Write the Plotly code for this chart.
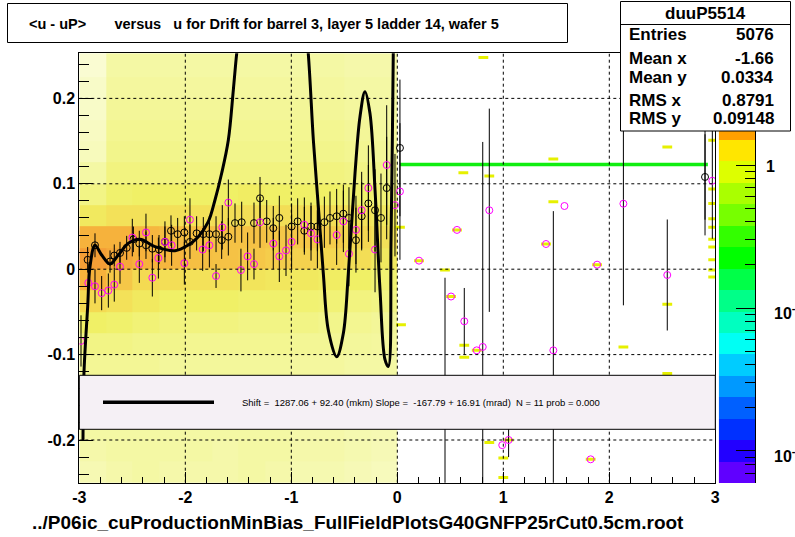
import math
import plotly.graph_objects as go

W, H = 795, 537

# ---------------- data ----------------
# coarse occupancy of the 2D histogram for u < 0 (rows: bottom -> top)
dens_x_edges = [-3.0, -2.75, -2.5, -2.25, -2.0, -1.75, -1.5, -1.25, -1.0, -0.75, -0.5, -0.25, 0.0]
dens_y_edges = [-0.25, -0.225, -0.2, -0.175, -0.15, -0.125, -0.1, -0.075, -0.05, -0.025, 0.0,
                0.025, 0.05, 0.075, 0.1, 0.125, 0.15, 0.175, 0.2, 0.225, 0.253]
density = [
    [0.25, 0.28, 0.30, 0.28, 0.28, 0.28, 0.30, 0.28, 0.26, 0.26, 0.24, 0.22],
    [0.28, 0.30, 0.30, 0.30, 0.30, 0.28, 0.30, 0.30, 0.28, 0.28, 0.26, 0.24],
    [0.30, 0.30, 0.30, 0.30, 0.30, 0.30, 0.30, 0.30, 0.28, 0.28, 0.26, 0.25],
    [0.30, 0.32, 0.32, 0.30, 0.30, 0.30, 0.30, 0.30, 0.30, 0.28, 0.27, 0.26],
    [0.32, 0.33, 0.33, 0.32, 0.32, 0.32, 0.32, 0.32, 0.30, 0.30, 0.28, 0.28],
    [0.35, 0.35, 0.35, 0.33, 0.33, 0.33, 0.33, 0.33, 0.32, 0.32, 0.30, 0.30],
    [0.40, 0.40, 0.38, 0.38, 0.36, 0.36, 0.36, 0.36, 0.35, 0.35, 0.33, 0.32],
    [0.50, 0.48, 0.45, 0.42, 0.42, 0.42, 0.40, 0.40, 0.40, 0.38, 0.36, 0.34],
    [0.65, 0.60, 0.55, 0.50, 0.50, 0.50, 0.48, 0.48, 0.46, 0.45, 0.42, 0.40],
    [0.80, 0.72, 0.65, 0.62, 0.60, 0.60, 0.58, 0.56, 0.55, 0.52, 0.50, 0.46],
    [0.90, 0.85, 0.80, 0.78, 0.75, 0.74, 0.72, 0.70, 0.68, 0.66, 0.62, 0.55],
    [0.80, 0.80, 0.78, 0.76, 0.75, 0.74, 0.74, 0.72, 0.72, 0.70, 0.66, 0.60],
    [0.55, 0.60, 0.60, 0.60, 0.60, 0.62, 0.62, 0.62, 0.62, 0.62, 0.60, 0.55],
    [0.40, 0.48, 0.50, 0.50, 0.50, 0.50, 0.52, 0.50, 0.50, 0.50, 0.48, 0.45],
    [0.30, 0.42, 0.42, 0.42, 0.42, 0.42, 0.42, 0.42, 0.42, 0.42, 0.40, 0.38],
    [0.22, 0.38, 0.38, 0.38, 0.38, 0.38, 0.38, 0.38, 0.38, 0.38, 0.36, 0.34],
    [0.20, 0.36, 0.36, 0.36, 0.36, 0.36, 0.36, 0.36, 0.36, 0.36, 0.34, 0.32],
    [0.18, 0.34, 0.34, 0.34, 0.34, 0.34, 0.34, 0.34, 0.34, 0.34, 0.32, 0.30],
    [0.18, 0.32, 0.32, 0.32, 0.32, 0.32, 0.32, 0.32, 0.32, 0.32, 0.30, 0.30],
    [0.15, 0.30, 0.30, 0.30, 0.30, 0.30, 0.30, 0.30, 0.30, 0.30, 0.28, 0.28],
]

# sparse single cells for u > 0
cell_x = [0.812, 0.623, 0.868, 1.472, 1.472, 2.547, 0.025, 0.45, 0.035, 0.632, 0.632, 2.133,
          2.547, 2.547, 0.868, 1.0, 1.0, 2.98, 2.98, 2.98, 2.98, 2.98, 2.98, 2.98, 2.98, 2.98,
          2.98, 0.205, 0.563, 0.507, 1.403, 1.885, 0.749, 1.05, 1.824]
cell_y = [0.248, 0.113, 0.109, 0.129, 0.079, 0.143, 0.049, -0.001, -0.065, -0.089, -0.103, -0.091,
          -0.041, -0.122, -0.203, -0.221, -0.244, 0.151, 0.094, 0.077, 0.059, 0.049, 0.035, 0.026,
          0.011, -0.001, -0.009, 0.010, 0.046, -0.032, 0.0295, 0.0053, -0.095, -0.200, -0.2226]

# profile 1 (black open circles)
prof_x = [-2.921, -2.852, -2.710, -2.670, -2.616, -2.553, -2.490, -2.434, -2.371, -2.311, -2.248,
          -2.192, -2.135, -2.072, -2.009, -1.956, -1.893, -1.830, -1.773, -1.710, -1.657, -1.594,
          -1.531, -1.468, -1.352, -1.295, -1.232, -1.170, -1.113, -0.997, -0.940, -0.877, -0.814,
          -0.754, -0.688, -0.635, -0.572, -0.509, -0.456, -0.390, -0.336, -0.273, -0.210, -0.154,
          -0.100, 0.025, 2.903]
prof_y = [0.011, 0.028, 0.009, 0.016, 0.019, 0.025, 0.035, 0.030, 0.028, 0.024, 0.023, 0.032,
          0.045, 0.041, 0.043, 0.032, 0.042, 0.041, 0.041, 0.041, 0.034, 0.038, 0.054, 0.055,
          0.054, 0.083, 0.056, 0.048, 0.060, 0.050, 0.056, 0.045, 0.050, 0.050, 0.055, 0.060,
          0.062, 0.065, 0.060, 0.034, 0.062, 0.077, 0.069, 0.060, 0.095, 0.142, 0.108]
prof_e = [0.015, 0.014, 0.013, 0.013, 0.013, 0.014, 0.015, 0.015, 0.016, 0.016, 0.017, 0.018,
          0.018, 0.019, 0.019, 0.020, 0.020, 0.020, 0.021, 0.021, 0.022, 0.022, 0.023, 0.024,
          0.024, 0.025, 0.025, 0.026, 0.026, 0.027, 0.027, 0.028, 0.028, 0.029, 0.030, 0.031,
          0.032, 0.034, 0.036, 0.038, 0.040, 0.045, 0.048, 0.052, 0.060, 0.080, 0.050]

# profile 2 (magenta open circles)
mag_x = [-2.984, -2.915, -2.852, -2.789, -2.726, -2.670, -2.616, -2.500, -2.434, -2.371, -2.311,
         -2.254, -2.192, -2.129, -2.009, -1.956, -1.836, -1.773, -1.710, -1.651, -1.594, -1.475,
         -1.412, -1.352, -1.295, -1.170, -1.113, -1.050, -0.997, -0.877, -0.814, -0.754, -0.572,
         -0.509, -0.456, -0.390, -0.336, -0.273, -0.210, -0.100, -0.022, 0.025,
         0.205, 0.45, 0.507, 0.563, 0.632, 0.749, 0.806, 0.868, 0.99, 1.05, 1.403, 1.472,
         1.577, 1.824, 1.885, 2.133, 2.547, 2.903, 2.972]
mag_y = [-0.084, -0.016, -0.020, -0.028, -0.025, -0.018, 0.003, 0.037, 0.006, 0.043, -0.010,
         0.013, 0.032, 0.028, 0.007, 0.058, 0.023, 0.028, -0.008, 0.049, 0.078, -0.001,
         0.015, 0.006, 0.055, 0.030, 0.015, 0.022, 0.032, 0.052, 0.042, 0.035, 0.040,
         0.056, 0.018, 0.046, 0.069, 0.095, 0.023, 0.122, 0.075, 0.091,
         0.010, -0.135, -0.032, 0.046, -0.061, -0.095, -0.091, 0.069, -0.206, -0.200, 0.0295,
         -0.095, 0.074, -0.2226, 0.0053, 0.0767, -0.0068, 0.1786, 0.1036]
mag_e = [0.030, 0.022, 0.020, 0.020, 0.020, 0.020, 0.020, 0.022, 0.022, 0.022, 0.022,
         0.024, 0.024, 0.024, 0.025, 0.025, 0.025, 0.026, 0.014, 0.026, 0.027, 0.025,
         0.028, 0.018, 0.030, 0.030, 0.030, 0.030, 0.032, 0.032, 0.032, 0.034, 0.035,
         0.036, 0.038, 0.040, 0.045, 0.050, 0.050, 0.070, 0.060, 0.080,
         0.0, 0.125, 0.0, 0.0, 0.039, 0.0, 0.240, 0.119, 0.0, 0.020, 0.0,
         0.163, 0.0, 0.0, 0.0, 0.119, 0.065, 0.139, 0.068]

# fitted curve (thick black)
fit_x = [-2.965, -2.956, -2.921, -2.899, -2.852, -2.789, -2.710, -2.632, -2.537, -2.427, -2.286,
         -2.097, -1.972, -1.877, -1.783, -1.720, -1.657, -1.594, -1.547, -1.515, -1.45, -1.30,
         -1.17, -1.00, -0.90, -0.840, -0.792, -0.745, -0.698, -0.651, -0.572, -0.509, -0.462,
         -0.399, -0.352, -0.305, -0.258, -0.210, -0.163, -0.116, -0.085, -0.059, -0.038, -0.025]
fit_y = [-0.20, -0.122, -0.044, 0.003, 0.028, 0.0166, 0.0061, 0.0166, 0.0303, 0.035, 0.0264,
         0.0217, 0.0283, 0.038, 0.0556, 0.081, 0.1123, 0.1513, 0.2098, 0.2528, 0.32, 0.44,
         0.48, 0.43, 0.33, 0.2528, 0.1513, 0.0732, -0.0048, -0.0712, -0.1025, -0.075, -0.0048,
         0.1123, 0.1786, 0.2079, 0.1825, 0.0927, -0.0244, -0.106, -0.114, 0.0343, 0.2528, 0.40]

# green line (u > 0)
green_x = [0.025, 2.93]
green_y = [0.1227, 0.1227]

# colour palette of the z scale (log10 band edges, top -> bottom)
pal_edges = [0.238, 0.175, 0.025, -0.125, -0.275, -0.425, -0.575, -0.725, -0.875, -1.025,
             -1.175, -1.325, -1.475, -1.625, -1.775, -1.925, -2.075, -2.226]
pal_colors = ['#ffa000', '#ffe600', '#ddff00', '#aaff00', '#77ff00', '#33ff00', '#00ff00',
              '#00ff48', '#00ff88', '#00ffc0', '#00fff4', '#00ccff', '#0099ff', '#0060ff',
              '#0030ff', '#2200ff', '#6000ff']

stats_labels = ['Entries', 'Mean x', 'Mean y', 'RMS x', 'RMS y']
stats_values = ['5076', '-1.66', '0.0334', '0.8791', '0.09148']

# ---------------- figure ----------------
FONT = 'Liberation Sans, Arial, Helvetica, sans-serif'
px = lambda x: x / W
py = lambda y: 1 - y / H

fig = go.Figure()

fig.add_trace(go.Heatmap(
    x=dens_x_edges, y=dens_y_edges, z=density, zmin=0, zmax=1, showscale=False,
    colorscale=[[0, '#ffffff'], [0.3, '#f4f8a4'], [0.5, '#f0f066'], [0.65, '#f4da52'],
                [0.8, '#f6b23c'], [1.0, '#f28a30']],
    hoverinfo='skip'))

fig.add_trace(go.Scatter(
    x=cell_x, y=cell_y, mode='markers', hoverinfo='skip',
    marker=dict(symbol='line-ew', size=7, line=dict(color='#e6f000', width=3))))

fig.add_trace(go.Scatter(
    x=green_x, y=green_y, mode='lines', line=dict(color='#11ee11', width=3.5), hoverinfo='skip'))

fig.add_trace(go.Scatter(
    x=prof_x, y=prof_y, mode='markers', hoverinfo='skip',
    error_y=dict(type='data', array=prof_e, color='black', thickness=1, width=0),
    marker=dict(symbol='circle-open', size=7, color='black', line=dict(width=1))))

fig.add_trace(go.Scatter(
    x=mag_x, y=mag_y, mode='markers', hoverinfo='skip',
    error_y=dict(type='data', array=mag_e, color='black', thickness=1, width=0),
    marker=dict(symbol='circle-open', size=7, color='#ff00ff', line=dict(width=1))))

fig.add_trace(go.Scatter(
    x=fit_x, y=fit_y, mode='lines', line=dict(color='black', width=3, shape='spline'),
    hoverinfo='skip'))

# colour palette axis
band_z = [[len(pal_colors) - 1 - i] for i in range(len(pal_colors))]
fig.add_trace(go.Heatmap(
    x=[0, 1], y=pal_edges[::-1], z=band_z[::-1], xaxis='x2', yaxis='y2', showscale=False,
    zmin=0, zmax=len(pal_colors) - 1,
    colorscale=[[i / (len(pal_colors) - 1), c] for i, c in enumerate(pal_colors[::-1])],
    hoverinfo='skip'))

minor_logs = []
for d in [0, -1, -2, -3]:
    for k in range(2, 10):
        v = d + math.log10(k)
        if -2.226 < v < 0.238:
            minor_logs.append(v)

fig.update_layout(
    width=W, height=H, margin=dict(l=0, r=0, t=0, b=0, pad=0, autoexpand=False),
    paper_bgcolor='white', plot_bgcolor='white', showlegend=False,
    xaxis=dict(domain=[px(79.3), px(715.3)], range=[-3, 3], showgrid=False, zeroline=False,
               automargin=False,
               showline=True, linecolor='black', linewidth=1, mirror=True,
               tickmode='array', tickvals=[-3, -2, -1, 0, 1, 2, 3],
               ticktext=['-3', '-2', '-1', '0', '1', '2', '3'],
               ticks='inside', ticklen=11, tickcolor='black',
               minor=dict(tickmode='linear', tick0=0, dtick=0.2, ticks='inside', ticklen=6,
                          tickcolor='black'),
               tickfont=dict(family=FONT, size=16, color='black', weight='bold')),
    yaxis=dict(domain=[py(482.7), py(53.3)], range=[-0.25, 0.2528], showgrid=False, zeroline=False,
               automargin=False,
               showline=True, linecolor='black', linewidth=1, mirror=True,
               tickmode='array', tickvals=[-0.2, -0.1, 0, 0.1, 0.2],
               ticktext=['-0.2', '-0.1', '0', '0.1', '0.2'],
               ticks='inside', ticklen=14, tickcolor='black',
               minor=dict(tickmode='linear', tick0=0, dtick=0.02, ticks='inside', ticklen=10,
                          tickcolor='black'),
               tickfont=dict(family=FONT, size=16, color='black', weight='bold')),
    xaxis2=dict(domain=[px(718.7), px(755.3)], range=[0, 1], showgrid=False, zeroline=False,
                automargin=False,
                showticklabels=False, ticks='', showline=False, anchor='y2'),
    yaxis2=dict(domain=[py(483.3), py(131)], range=[-2.226, 0.238], anchor='x2', side='right',
                automargin=False,
                showgrid=False, zeroline=False, showline=True, linecolor='black', linewidth=1,
                tickmode='array', tickvals=[0, -1, -2], ticks='inside', ticklen=19,
                tickcolor='black', showticklabels=False,
                minor=dict(tickmode='array', tickvals=minor_logs, ticks='inside', ticklen=10,
                           tickcolor='black')),
)

shapes = []
# dashed grid
for gx in [-2, -1, 0, 1, 2]:
    shapes.append(dict(type='line', xref='x', yref='y', x0=gx, x1=gx, y0=-0.25, y1=0.2528,
                       line=dict(color='black', width=1, dash='3px,3px'), layer='above'))
for gy in [-0.2, -0.1, 0, 0.1, 0.2]:
    shapes.append(dict(type='line', xref='x', yref='y', x0=-3, x1=3, y0=gy, y1=gy,
                       line=dict(color='black', width=1, dash='3px,3px'), layer='above'))
# fit pave
shapes.append(dict(type='rect', xref='paper', yref='paper', x0=px(79.3), x1=px(715.3),
                   y0=py(429.3), y1=py(375.3), fillcolor='#f5f0f5',
                   line=dict(color='black', width=1), layer='above'))
shapes.append(dict(type='line', xref='paper', yref='paper', x0=px(103), x1=px(214),
                   y0=py(402.3), y1=py(402.3), line=dict(color='black', width=3.5), layer='above'))
# title box
shapes.append(dict(type='rect', xref='paper', yref='paper', x0=px(7.5), x1=px(567.5),
                   y0=py(42.5), y1=py(3.5), fillcolor='white',
                   line=dict(color='black', width=1), layer='above'))
# stats box
shapes.append(dict(type='rect', xref='paper', yref='paper', x0=px(620.5), x1=px(790.5),
                   y0=py(131), y1=py(1.5), fillcolor='white',
                   line=dict(color='black', width=1), layer='above'))
shapes.append(dict(type='line', xref='paper', yref='paper', x0=px(620.5), x1=px(790.5),
                   y0=py(24.5), y1=py(24.5), line=dict(color='black', width=1), layer='above'))
fig.update_layout(shapes=shapes)

NB = '\u00a0'
ann = []
ann.append(dict(text='&lt;u - uP&gt;' + NB * 7 + 'versus' + NB * 3 +
                'u for Drift for barrel 3, layer 5 ladder 14, wafer 5',
                x=px(27), y=py(24), xref='paper', yref='paper', xanchor='left', yanchor='middle',
                showarrow=False, font=dict(family=FONT, size=14.5, color='black', weight='bold')))
ann.append(dict(text='duuP5514', x=px(705), y=py(13), xref='paper', yref='paper',
                xanchor='center', yanchor='middle', showarrow=False,
                font=dict(family=FONT, size=17, color='black', weight='bold')))
rows_y = [35, 58, 77, 100, 118]
for lab, val, yy in zip(stats_labels, stats_values, rows_y):
    ann.append(dict(text=lab, x=px(627), y=py(yy), xref='paper', yref='paper', xanchor='left',
                    yanchor='middle', showarrow=False,
                    font=dict(family=FONT, size=17, color='black', weight='bold')))
    ann.append(dict(text=val, x=px(776), y=py(yy), xref='paper', yref='paper', xanchor='right',
                    yanchor='middle', showarrow=False,
                    font=dict(family=FONT, size=17, color='black', weight='bold')))
ann.append(dict(text='Shift =' + NB * 2 + '1287.06 + 92.40 (mkm) Slope =' + NB * 2 +
                '-167.79 + 16.91 (mrad)' + NB * 2 + 'N = 11 prob = 0.000',
                x=px(240), y=py(402), xref='paper', yref='paper', xanchor='left', yanchor='middle',
                showarrow=False,
                font=dict(family=FONT, size=9.5, color='black')))
ann.append(dict(text='../P06ic_cuProductionMinBias_FullFieldPlotsG40GNFP25rCut0.5cm.root',
                x=px(30), y=py(522), xref='paper', yref='paper', xanchor='left', yanchor='middle',
                showarrow=False, font=dict(family=FONT, size=19, color='black', weight='bold')))
for lab, yy, xx in [('1', 166, 764), ('10<sup>-1</sup>', 312, 772), ('10<sup>-2</sup>', 455, 772)]:
    ann.append(dict(text=lab, x=px(xx), y=py(yy), xref='paper', yref='paper', xanchor='left',
                    yanchor='middle', showarrow=False,
                    font=dict(family=FONT, size=16, color='black', weight='bold')))
fig.update_layout(annotations=ann)

fig.write_html('out.html', config={'displayModeBar': False},
               post_script="document.body.style.margin='0';document.body.style.padding='0';")
